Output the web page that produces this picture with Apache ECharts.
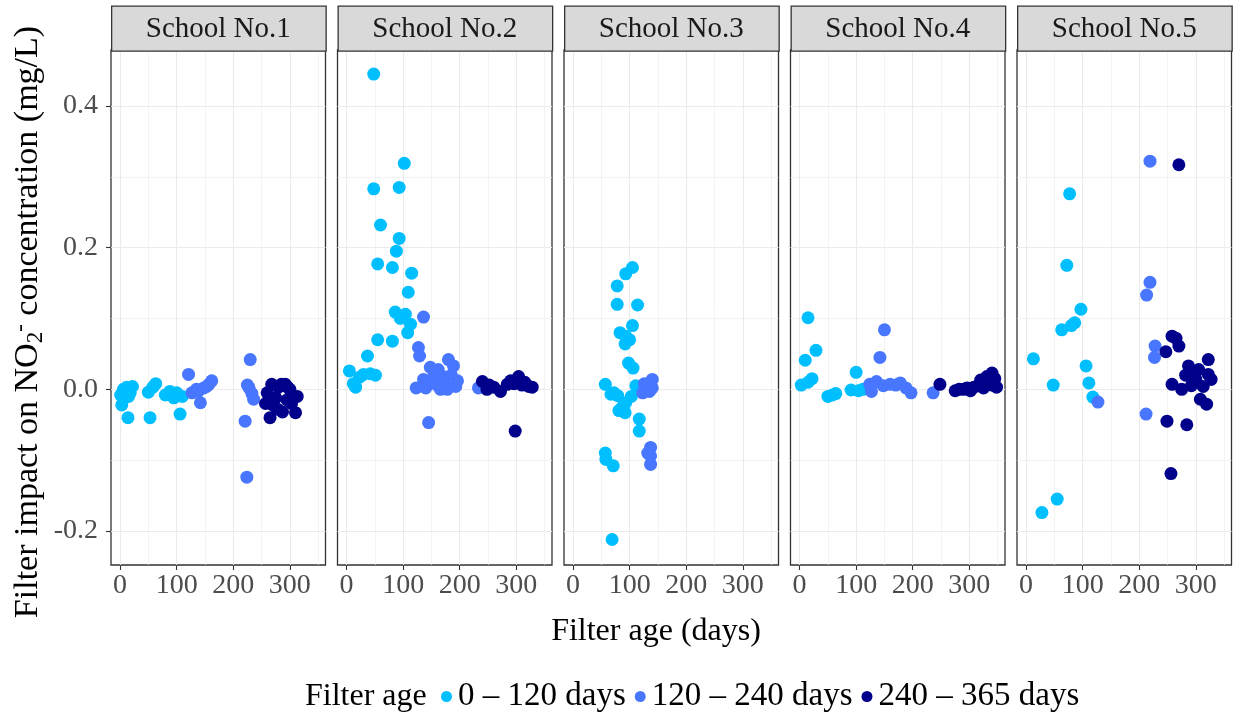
<!DOCTYPE html>
<html>
<head>
<meta charset="utf-8">
<script src="https://cdn.jsdelivr.net/npm/echarts@6/dist/echarts.min.js"></script>
<style>
  html, body { margin: 0; padding: 0; background: #fff; }
  #chart { width: 1233px; height: 715px; }
</style>
</head>
<body>
<div id="chart"></div>
<script>
// Facet labels and age classes
const schools = ['School No.1', 'School No.2', 'School No.3', 'School No.4', 'School No.5'];
const ageClasses = ['0 – 120 days', '120 – 240 days', '240 – 365 days'];
const ageBreaks = [120, 240];
const classColors = ['#00BFFF', '#4876FF', '#00008B'];

// Axis ticks
const xTicks = [0, 100, 200, 300];
const xMinorTicks = [50, 150, 250, 350];
const yTicks = [-0.2, 0.0, 0.2, 0.4];
const yMinorTicks = [-0.1, 0.1, 0.3];

// Filter age (days) and impact on NO2- (mg/L), per school
const school1Age = [3, 1, 6, 12, 18, 22, 8, 15, 14, 50, 58, 63, 53, 80, 88, 95, 100, 106, 110,
  121, 127, 135, 138, 142, 148, 153, 157, 162, 230, 225, 228, 233, 236, 221, 224,
  257, 260, 265, 268, 270, 275, 280, 285, 287, 292, 295, 300, 303, 310, 313, 278, 296];
const school1Impact = [-0.022, -0.008, 0.0, 0.003, -0.005, 0.004, -0.012, -0.01, -0.04, -0.004, 0.003, 0.008, -0.04, -0.008, -0.003, -0.012, -0.005, -0.035, -0.01,
  0.021, -0.005, 0.0, -0.003, -0.019, 0.002, 0.004, 0.007, 0.012, 0.042, 0.006, 0.002, -0.006, -0.014, -0.045, -0.124,
  -0.02, -0.005, -0.04, 0.007, -0.022, -0.012, 0.003, 0.007, -0.032, 0.007, -0.015, 0.0, -0.02, -0.033, -0.01, -0.028, 0.003];

const school2Age = [48, 102, 48, 93, 60, 93, 88, 55, 81, 115, 109, 86, 104, 113, 108, 95, 55, 81, 37, 5, 51, 30, 16, 23, 12, 42,
  136, 127, 129, 145, 123, 136, 140, 148, 152, 155, 160, 166, 170, 175, 180, 189, 196, 185, 162, 233, 178, 193,
  240, 248, 260, 272, 284, 296, 304, 315, 322, 328, 298, 290, 310, 252];
const school2Impact = [0.445, 0.319, 0.283, 0.285, 0.232, 0.213, 0.195, 0.177, 0.172, 0.164, 0.137, 0.109, 0.106, 0.092, 0.08, 0.1, 0.07, 0.068, 0.047, 0.026, 0.02, 0.021, 0.003, 0.017, 0.008, 0.022,
  0.102, 0.059, 0.047, -0.047, 0.002, 0.014, 0.002, 0.031, 0.01, 0.021, 0.006, 0.0, 0.018, 0.005, 0.042, 0.033, 0.012, 0.02, 0.028, 0.002, 0.0, 0.004,
  0.011, 0.0, 0.003, -0.003, 0.007, 0.008, 0.018, 0.01, 0.004, 0.003, -0.059, 0.012, 0.006, 0.006];

const school3Age = [105, 93, 78, 78, 114, 105, 83, 93, 100, 92, 98, 106, 57, 67, 79, 111, 103, 93, 81, 92, 117, 117, 57, 58, 71, 69, 87, 72,
  123, 128, 133, 140, 140, 137, 137, 137, 132, 126, 135];
const school3Impact = [0.172, 0.163, 0.146, 0.12, 0.119, 0.09, 0.08, 0.075, 0.07, 0.064, 0.037, 0.03, 0.007, -0.007, -0.009, 0.005, -0.01, -0.019, -0.03, -0.033, -0.042, -0.059, -0.09, -0.099, -0.108, -0.212, -0.025, -0.005,
  -0.005, 0.0, 0.006, 0.014, 0.002, -0.082, -0.094, -0.106, -0.09, 0.008, -0.003];

const school4Age = [15, 29, 10, 22, 3, 15, 100, 50, 58, 64, 91, 104, 112,
  150, 142, 124, 136, 127, 148, 160, 170, 178, 188, 197, 236,
  248, 275, 282, 290, 302, 308, 320, 325, 331, 340, 340, 348, 315, 296, 335, 345];
const school4Impact = [0.101, 0.055, 0.041, 0.015, 0.006, 0.01, 0.024, -0.01, -0.008, -0.006, -0.001, -0.002, 0.0,
  0.084, 0.045, 0.007, 0.011, -0.003, 0.005, 0.007, 0.006, 0.009, 0.002, -0.005, -0.005,
  0.007, -0.002, 0.0, 0.0, -0.002, 0.003, 0.013, 0.002, 0.018, 0.023, 0.006, 0.003, 0.005, 0.002, 0.012, 0.015];

const school5Age = [77, 72, 97, 86, 63, 80, 13, 106, 48, 111, 118, 55, 28,
  219, 219, 213, 228, 227, 127, 212,
  270, 258, 270, 247, 322, 287, 305, 322, 282, 258, 275, 300, 313, 319, 308, 249, 284, 256, 296, 327, 292, 265, 290];
const school5Impact = [0.276, 0.175, 0.113, 0.094, 0.084, 0.09, 0.043, 0.033, 0.006, 0.009, -0.011, -0.155, -0.174,
  0.322, 0.151, 0.133, 0.061, 0.045, -0.018, -0.035,
  0.317, 0.075, 0.061, 0.053, 0.042, 0.033, 0.028, 0.021, 0.02, 0.007, 0.0, 0.014, 0.004, -0.021, -0.014, -0.045, -0.05, -0.119, 0.016, 0.014, 0.005, 0.072, 0.024];

const schoolAges = [school1Age, school2Age, school3Age, school4Age, school5Age];
const schoolImpacts = [school1Impact, school2Impact, school3Impact, school4Impact, school5Impact];

// Layout of the facet panels
const FONT = "'Liberation Serif', 'Times New Roman', serif";
const PANEL_LEFT = 111, PANEL_W = 214.5, PANEL_STEP = 226.5;
const PANEL_TOP = 50, PANEL_H = 515;
const STRIP_TOP = 5.5, STRIP_H = 45;
const X_MIN = -16, X_MAX = 363, Y_MIN = -0.248, Y_MAX = 0.479;

function ageClass(age) {
  if (age < ageBreaks[0]) return 0;
  if (age < ageBreaks[1]) return 1;
  return 2;
}

const grids = [], xAxes = [], yAxes = [], series = [], graphics = [];

schools.forEach((name, i) => {
  const left = PANEL_LEFT + i * PANEL_STEP;
  grids.push({
    left: left, top: PANEL_TOP, width: PANEL_W, height: PANEL_H,
    show: true, backgroundColor: '#fff', borderColor: '#333', borderWidth: 1.3
  });
  // major x axis
  xAxes.push({
    type: 'value', gridIndex: i, min: X_MIN, max: X_MAX, position: 'bottom',
    axisLine: { show: false, onZero: false },
    axisTick: { show: true, length: 5, lineStyle: { color: '#333', width: 1.1 }, customValues: xTicks },
    axisLabel: { customValues: xTicks, margin: 7, fontSize: 28, fontFamily: FONT, color: '#4D4D4D' },
    splitLine: { show: true, lineStyle: { color: '#EBEBEB', width: 1.1 } }
  });
  // minor x grid
  xAxes.push({
    type: 'value', gridIndex: i, min: X_MIN, max: X_MAX, position: 'top',
    axisLine: { show: false, onZero: false },
    axisTick: { show: false, customValues: xMinorTicks },
    axisLabel: { show: false, customValues: xMinorTicks },
    splitLine: { show: true, lineStyle: { color: '#EBEBEB', width: 0.6 } }
  });
  // major y axis (labels on the first panel only)
  yAxes.push({
    type: 'value', gridIndex: i, min: Y_MIN, max: Y_MAX, position: 'left',
    axisLine: { show: false, onZero: false },
    axisTick: { show: i === 0, length: 5, lineStyle: { color: '#333', width: 1.1 }, customValues: yTicks },
    axisLabel: { show: i === 0, customValues: yTicks, margin: 13, fontSize: 28, fontFamily: FONT, color: '#4D4D4D',
      formatter: v => v.toFixed(1) },
    splitLine: { show: true, lineStyle: { color: '#EBEBEB', width: 1.1 } }
  });
  // minor y grid
  yAxes.push({
    type: 'value', gridIndex: i, min: Y_MIN, max: Y_MAX, position: 'right',
    axisLine: { show: false, onZero: false },
    axisTick: { show: false, customValues: yMinorTicks },
    axisLabel: { show: false, customValues: yMinorTicks },
    splitLine: { show: true, lineStyle: { color: '#EBEBEB', width: 0.6 } }
  });

  const ages = schoolAges[i], impacts = schoolImpacts[i];
  ageClasses.forEach((cls, c) => {
    const data = [];
    ages.forEach((a, k) => { if (ageClass(a) === c) data.push([a, impacts[k]]); });
    series.push({
      type: 'scatter', name: cls, xAxisIndex: i * 2, yAxisIndex: i * 2,
      data: data, symbol: 'circle', symbolSize: 13,
      itemStyle: { color: classColors[c], opacity: 1 },
      emphasis: { disabled: true }, silent: true, z: 3 + c
    });
  });

  // facet strip
  graphics.push({
    type: 'rect', left: left, top: STRIP_TOP, z: 10,
    shape: { width: PANEL_W, height: STRIP_H },
    style: { fill: '#D9D9D9', stroke: '#333', lineWidth: 1.3 }
  });
  graphics.push({
    type: 'text', x: left + PANEL_W / 2, y: STRIP_TOP + STRIP_H / 2 + 1, z: 11,
    style: { text: name, fontSize: 29, fontFamily: FONT, fill: '#1A1A1A', align: 'center', verticalAlign: 'middle' }
  });
});

// axis titles
graphics.push({
  type: 'text', x: 656, y: 632, z: 11,
  style: { text: 'Filter age (days)', fontSize: 32, fontFamily: FONT, fill: '#000', align: 'center', verticalAlign: 'middle' }
});
graphics.push({
  type: 'text', x: 28, y: 322, rotation: Math.PI / 2, z: 11,
  style: {
    text: '{m|Filter impact on NO}{sub|2}{sup|-}{m| concentration (mg/L)}',
    align: 'center', verticalAlign: 'middle', fill: '#000',
    rich: {
      m: { fontSize: 34, fontFamily: FONT, lineHeight: 38, fill: '#000' },
      sub: { fontSize: 23, fontFamily: FONT, lineHeight: 22, verticalAlign: 'bottom', fill: '#000' },
      sup: { fontSize: 23, fontFamily: FONT, lineHeight: 22, verticalAlign: 'top', fill: '#000' }
    }
  }
});
// legend title
graphics.push({
  type: 'text', x: 305, y: 697, z: 11,
  style: { text: 'Filter age', fontSize: 32, fontFamily: FONT, fill: '#000', align: 'left', verticalAlign: 'middle' }
});

const chart = echarts.init(document.getElementById('chart'), null, { renderer: 'canvas' });
chart.setOption({
  animation: false,
  backgroundColor: '#fff',
  grid: grids,
  xAxis: xAxes,
  yAxis: yAxes,
  series: series,
  legend: {
    data: ageClasses.map((n, c) => ({ name: n, icon: 'circle', itemStyle: { color: classColors[c] } })),
    left: 441, top: 680, itemWidth: 11, itemHeight: 11, itemGap: 9, padding: 0,
    textStyle: { fontSize: 33, fontFamily: FONT, color: '#000', padding: [0, 0, 0, 1] },
    selectedMode: false
  },
  graphic: graphics
});
</script>
</body>
</html>
